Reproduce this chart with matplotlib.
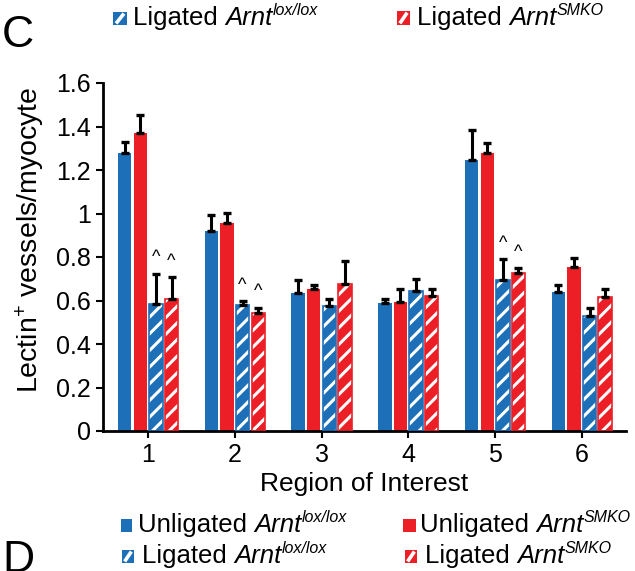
import numpy as np
import matplotlib
matplotlib.use("Agg")
import matplotlib.pyplot as plt
from matplotlib.patches import Rectangle
from matplotlib.lines import Line2D

plt.rcParams["font.family"] = ["Liberation Sans", "DejaVu Sans"]
plt.rcParams["mathtext.fontset"] = "custom"
plt.rcParams["mathtext.rm"] = "Liberation Sans"
plt.rcParams["mathtext.it"] = "Liberation Sans:italic"
plt.rcParams["hatch.linewidth"] = 2.2

regions = [1, 2, 3, 4, 5, 6]
# mean values per series
unlig_lox = [1.28, 0.92, 0.635, 0.59, 1.245, 0.64]
unlig_smko = [1.37, 0.955, 0.652, 0.594, 1.28, 0.754]
lig_lox = [0.584, 0.581, 0.575, 0.643, 0.695, 0.529]
lig_smko = [0.605, 0.543, 0.675, 0.622, 0.728, 0.617]
# upper error (SEM)
err_unlig_lox = [0.05, 0.072, 0.06, 0.018, 0.137, 0.033]
err_unlig_smko = [0.085, 0.048, 0.021, 0.057, 0.043, 0.043]
err_lig_lox = [0.138, 0.015, 0.033, 0.056, 0.094, 0.035]
err_lig_smko = [0.102, 0.022, 0.108, 0.032, 0.02, 0.034]
# "^" marks over ligated bars in regions 1, 2, 5
caret_regions = [1, 2, 5]

BLUE = "#1d6fb8"
RED = "#ec1f27"
W, H = 635, 571

fig = plt.figure(figsize=(W / 100, H / 100), dpi=100)
ax = fig.add_axes([103 / W, 1 - 431 / H, (626 - 103) / W, (431 - 83) / H])

x = np.array(regions, dtype=float)
w = 0.155
step = 0.18
offs = (np.arange(4) - 1.5) * step
vals = [unlig_lox, unlig_smko, lig_lox, lig_smko]
errs = [err_unlig_lox, err_unlig_smko, err_lig_lox, err_lig_smko]
cols = [BLUE, RED, BLUE, RED]

for i in range(4):
    xi = x + offs[i]
    if i < 2:
        ax.bar(xi, vals[i], w, color=cols[i], linewidth=0, zorder=2)
    else:
        ax.bar(xi, vals[i], w, facecolor=cols[i], edgecolor="white",
               hatch="//", linewidth=0, zorder=2)
        ax.bar(xi, vals[i], w, facecolor="none", edgecolor=cols[i],
               linewidth=1.2, zorder=3)
    ax.errorbar(xi, vals[i], yerr=[np.zeros(6), errs[i]], fmt="none",
                ecolor="black", elinewidth=2.2, capsize=2.8, capthick=2.4, zorder=4)

for r in caret_regions:
    k = regions.index(r)
    for i in (2, 3):
        top = vals[i][k] + errs[i][k]
        ax.text(x[k] + offs[i], top + 0.035, "^", ha="center", va="bottom",
                fontsize=13)

ax.set_xlim(0.48, 6.51)
ax.set_ylim(0, 1.6)
ax.set_xticks(regions)
ax.set_yticks([0, 0.2, 0.4, 0.6, 0.8, 1, 1.2, 1.4, 1.6])
ax.set_yticklabels(["0", "0.2", "0.4", "0.6", "0.8", "1", "1.2", "1.4", "1.6"])
for s in ("top", "right"):
    ax.spines[s].set_visible(False)
for s in ("left", "bottom"):
    ax.spines[s].set_linewidth(2)
ax.tick_params(axis="both", labelsize=18, width=1.5, length=5, direction="out")
ax.set_xlabel("Region of Interest", fontsize=19, labelpad=4)
ax.set_ylabel(r"Lectin$^{+}$ vessels/myocyte", fontsize=20.5, labelpad=7)
ax.yaxis.label.set_y(0.55)

# hand-placed legend entries: (marker left, marker top, text x, baseline) in px
renderer = fig.canvas.get_renderer()


def px(xp, yp):
    return xp / W, 1 - yp / H


def legend_entry(mx, my, mw, mh, tx, base, color, hatched, prefix, sup):
    x0, y0 = px(mx, my + mh)
    fig.patches.append(Rectangle((x0, y0), mw / W, mh / H, facecolor=color,
                                 edgecolor="none", transform=fig.transFigure))
    if hatched:
        fig.lines.append(Line2D([(mx + 0.22 * mw) / W, (mx + 0.78 * mw) / W],
                                [1 - (my + 0.88 * mh) / H, 1 - (my + 0.12 * mh) / H],
                                color="white", linewidth=2.6, solid_capstyle="butt",
                                transform=fig.transFigure))
    t1 = fig.text(*px(tx, base), prefix, fontsize=18.5, va="baseline")
    e1 = t1.get_window_extent(renderer)
    t2 = fig.text(e1.x1 / W, 1 - base / H, "Arnt", fontsize=18.5,
                  fontstyle="italic", va="baseline")
    e2 = t2.get_window_extent(renderer)
    fig.text((e2.x1 + 0.5) / W, 1 - (base - 10) / H, sup, fontsize=11.5,
             fontstyle="italic", va="baseline")


legend_entry(113, 12, 14, 13, 133, 25, BLUE, True, "Ligated ", "lox/lox")
legend_entry(397, 11, 13, 14, 417, 25, RED, True, "Ligated ", "SMKO")
legend_entry(121, 519, 11, 13, 138, 532, BLUE, False, "Unligated ", "lox/lox")
legend_entry(403, 519, 13, 13, 420, 532, RED, False, "Unligated ", "SMKO")
legend_entry(122, 550, 12, 13, 142, 563, BLUE, True, "Ligated ", "lox/lox")
legend_entry(405, 550, 12, 13, 425, 563, RED, True, "Ligated ", "SMKO")

fig.text(*px(2, 47), "C", fontsize=32, va="baseline", ha="left")
fig.text(*px(2, 572), "D", fontsize=32, va="baseline", ha="left")

fig.savefig("out.png", dpi=100)
